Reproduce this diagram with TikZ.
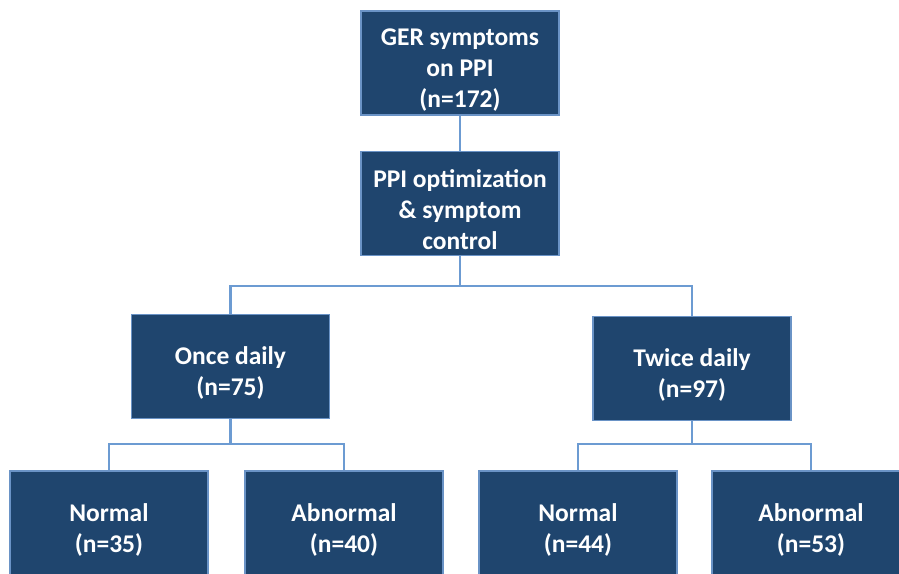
\documentclass[tikz,border=0pt]{standalone}
\usepackage{fontspec}
\setmainfont{Carlito}
\definecolor{boxfill}{HTML}{1F456E}
\definecolor{boxedge}{HTML}{6A93C6}
\definecolor{linkc}{HTML}{6C9BD2}
\newcommand\toppad{\rule{0pt}{30pt}}
\begin{document}
\begin{tikzpicture}[x=1pt,y=-1pt,
  fbox/.style={rectangle, fill=boxfill, draw=boxedge, line width=1.2pt,
    minimum width=198pt, minimum height=104pt, inner sep=2pt,
    text=white, font=\bfseries\fontsize{25.5}{31}\selectfont, align=center},
  link/.style={draw=linkc, line width=2.5pt}]
\useasboundingbox (0,0) rectangle (899,573);
\clip (0,0) rectangle (899,573);
\node[fbox] (top) at (460,63) {\toppad GER symptoms\\on PPI\\(n=172)};
\node[fbox] (opt) at (460,203.5) {\toppad PPI optimization\\\& symptom\\control};
\node[fbox] (once) at (230.5,366.5) {\toppad Once daily\\(n=75)};
\node[fbox] (twice) at (692,368.5) {\toppad Twice daily\\(n=97)};
\node[fbox, minimum height=106pt] (n1) at (109,524) {\toppad Normal\\(n=35)};
\node[fbox, minimum height=106pt] (a1) at (344,524) {\toppad Abnormal\\(n=40)};
\node[fbox, minimum height=106pt] (n2) at (578,524) {\toppad Normal\\(n=44)};
\node[fbox, minimum height=106pt] (a2) at (811,524) {\toppad Abnormal\\(n=53)};
\coordinate (j1) at (460,286);
\coordinate (j2) at (230.5,444);
\coordinate (j3) at (692,444);
\path[link] (top) -- (opt);
\path[link] (opt) -- (j1);
\path[link] (j1) -| (once);
\path[link] (j1) -| (twice);
\path[link] (once) -- (j2);
\path[link] (j2) -| (n1);
\path[link] (j2) -| (a1);
\path[link] (twice) -- (j3);
\path[link] (j3) -| (n2);
\path[link] (j3) -| (a2);
\end{tikzpicture}
\end{document}
